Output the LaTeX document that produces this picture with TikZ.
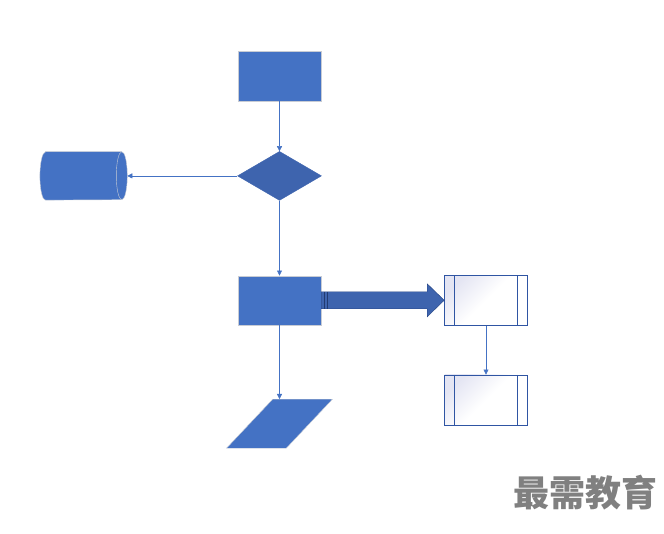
\documentclass[tikz,border=0pt]{standalone}
\usepackage{fontspec}
\usepackage{tikz}
\usetikzlibrary{arrows.meta,positioning,shapes.geometric}
\newfontfamily\cjk{Noto Sans CJK SC}
\definecolor{blu}{HTML}{4472C4}
\definecolor{dblu}{HTML}{3E64AE}
\definecolor{edge}{HTML}{2F55A3}
\definecolor{rim}{HTML}{C8CCD4}
\definecolor{lav}{HTML}{E4E5F3}

\begin{document}
\begin{tikzpicture}[x=1pt, y=1pt, >={Triangle[length=5pt,width=5pt]}, node distance=50pt,
  proc/.style={draw=rim, fill=blu, minimum width=83pt, minimum height=50pt, inner sep=0},
  dec/.style={diamond, draw=dblu, fill=dblu, aspect=1.7, minimum width=84pt, minimum height=49pt, inner sep=0},
  store/.style={minimum width=87pt, minimum height=48pt, inner sep=0},
  io/.style={trapezium, trapezium left angle=64, trapezium right angle=116, trapezium stretches=true,
    draw=rim, fill=blu, minimum width=106pt, minimum height=49pt, inner sep=1pt},
  sub/.style={draw=edge, semithick, shading=axis, top color=lav, bottom color=white, middle color=white,
    shading angle=45, minimum width=83pt, minimum height=50pt, inner sep=0,
    path picture={\draw[edge, semithick]
      ([xshift=10pt]path picture bounding box.north west) -- ([xshift=10pt]path picture bounding box.south west)
      ([xshift=-10pt]path picture bounding box.north east) -- ([xshift=-10pt]path picture bounding box.south east);}},
  link/.style={->, blu, thin}]
\useasboundingbox (0,0) rectangle (664,533);

\node[proc] (start) at (279.5,457) {};
\node[dec, below=of start] (check) {};
\node[store, left=110pt of check] (db) {};
\node[proc, minimum height=49pt, below=75pt of check] (work) {};
\node[io, below=74pt of work] (out) {\strut};
\node[sub, right=123pt of work] (subA) {};
\node[sub, below=49pt of subA] (subB) {};

% cylinder lying on its side
\filldraw[blu, draw=rim] ([xshift=5.5pt]db.north west) -- ([xshift=-5.5pt]db.north east)
  arc[start angle=90, end angle=-90, x radius=5.5, y radius=24] -- ([xshift=5.5pt]db.south west)
  arc[start angle=270, end angle=90, x radius=5.5, y radius=24] -- cycle;
\draw[rim] ([xshift=-5.5pt]db.north east) arc[start angle=90, end angle=270, x radius=5.5, y radius=24];

\draw[link] (start) -- (check);
\draw[link] (check) -- (db);
\draw[link] (check) -- (work);
\draw[link] (work) -- (out);
\draw[link] (subA) -- (subB);

% block arrow
\filldraw[dblu, draw=edge!80!black, thin] ([yshift=8.5pt]work.east) -- ([xshift=-17pt,yshift=8.5pt]subA.west)
  -- ([xshift=-17pt,yshift=16.5pt]subA.west) -- (subA.west) -- ([xshift=-17pt,yshift=-16.5pt]subA.west)
  -- ([xshift=-17pt,yshift=-8.5pt]subA.west) -- ([yshift=-8.5pt]work.east) -- cycle;
\draw[edge!70!black, thin] ([xshift=3pt,yshift=8.5pt]work.east) -- ([xshift=3pt,yshift=-8.5pt]work.east)
  ([xshift=6pt,yshift=8.5pt]work.east) -- ([xshift=6pt,yshift=-8.5pt]work.east);

\node[font={\cjk\bfseries\fontsize{36pt}{40pt}\selectfont}, text=gray] (brand) at (585,40) {最需教育};
\end{tikzpicture}
\end{document}
